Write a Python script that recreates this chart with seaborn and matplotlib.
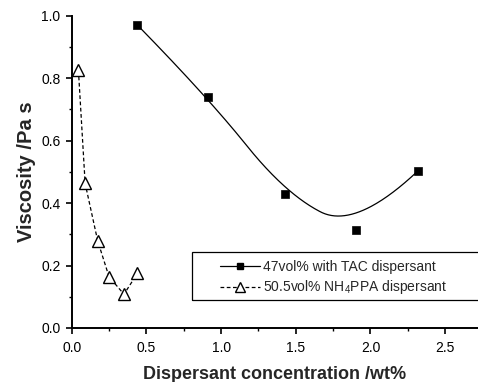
import matplotlib
matplotlib.use("Agg")
import matplotlib.pyplot as plt
from matplotlib.lines import Line2D
from matplotlib.patches import Rectangle
from matplotlib.ticker import MultipleLocator
import seaborn as sns
import pandas as pd
import numpy as np

# TAC dispersant series (squares)
tac_conc = [0.44, 0.91, 1.43, 1.90, 2.32]
tac_visc = [0.97, 0.74, 0.43, 0.314, 0.504]

# NH4PPA dispersant series (triangles)
ppa_conc = [0.045, 0.09, 0.174, 0.25, 0.35, 0.44]
ppa_visc = [0.825, 0.463, 0.279, 0.164, 0.108, 0.175]

tac_label = "47vol% with TAC dispersant"
ppa_label = "50.5vol% NH$_4$PPA dispersant"
x_label = "Dispersant concentration /wt%"
y_label = "Viscosity /Pa s"
x_ticks = [0.0, 0.5, 1.0, 1.5, 2.0, 2.5]
y_ticks = [0.0, 0.2, 0.4, 0.6, 0.8, 1.0]


def bspline_curve(px, py, degree=2, n=300):
    """Clamped B-spline using the data points as control points (Origin-style B-spline connect)."""
    px = np.asarray(px, float)
    py = np.asarray(py, float)
    m = len(px)
    k = degree
    inner = np.linspace(0, 1, m - k + 1)[1:-1]
    knots = np.concatenate([np.zeros(k + 1), inner, np.ones(k + 1)])
    t = np.linspace(0, 1, n)
    t[-1] = 1 - 1e-12

    def basis(i, p, tt):
        if p == 0:
            return ((knots[i] <= tt) & (tt < knots[i + 1])).astype(float)
        out = np.zeros_like(tt)
        d1 = knots[i + p] - knots[i]
        d2 = knots[i + p + 1] - knots[i + 1]
        if d1 > 0:
            out += (tt - knots[i]) / d1 * basis(i, p - 1, tt)
        if d2 > 0:
            out += (knots[i + p + 1] - tt) / d2 * basis(i + 1, p - 1, tt)
        return out

    B = np.array([basis(i, k, t) for i in range(m)])
    return B.T @ px, B.T @ py


sns.set_style("ticks")
plt.rcParams["font.family"] = ["Liberation Sans", "DejaVu Sans"]
plt.rcParams["mathtext.fontset"] = "custom"
plt.rcParams["mathtext.rm"] = "Liberation Sans"

fig = plt.figure(figsize=(4.78, 3.82), dpi=100)
ax = fig.add_axes([0.15, 0.1414, 0.85, 0.8175])

tac = pd.DataFrame({"c": tac_conc, "v": tac_visc})
ppa = pd.DataFrame({"c": ppa_conc, "v": ppa_visc})

bx, by = bspline_curve(tac_conc, tac_visc)
sns.lineplot(x=bx, y=by, sort=False, estimator=None, ax=ax, color="black", lw=0.9)
sns.scatterplot(data=tac, x="c", y="v", marker="s", s=36, color="black",
                edgecolor="black", ax=ax, zorder=3)
sns.lineplot(data=ppa, x="c", y="v", ax=ax, color="black", lw=0.9,
             linestyle=(0, (3, 2)), marker="^", markersize=8,
             markerfacecolor="white", markeredgecolor="black",
             markeredgewidth=1.0, sort=False, estimator=None)

ax.set_xlim(0, 2.72)
ax.set_ylim(0, 1.0)
ax.xaxis.set_minor_locator(MultipleLocator(0.25))
ax.yaxis.set_minor_locator(MultipleLocator(0.1))
ax.set_xticks(x_ticks)
ax.set_xticklabels([f"{v:.1f}" for v in x_ticks])
ax.set_yticks(y_ticks)
ax.set_yticklabels([f"{v:.1f}" for v in y_ticks])
ax.tick_params(which="major", direction="out", length=4.5, width=1.2,
               labelsize=10, color="black", labelcolor="black")
ax.tick_params(axis="x", which="major", pad=5)
ax.tick_params(which="minor", direction="out", length=2.5, width=1.0,
               color="black")

sns.despine(ax=ax, top=True, right=True)
for s in ["left", "bottom"]:
    ax.spines[s].set_linewidth(1.4)
    ax.spines[s].set_color("black")

ax.set_xlabel(x_label, fontsize=13, fontweight="bold", labelpad=8)
ax.set_ylabel(y_label, fontsize=14.5, fontweight="bold", labelpad=4)

# legend frame (extends past the right edge as in the reference)
ax.add_patch(Rectangle((0.296, 0.0897), 0.8, 0.154, transform=ax.transAxes,
                       fill=False, edgecolor="black", lw=0.9, clip_on=False,
                       zorder=4))
handles = [
    Line2D([], [], color="black", lw=0.9, marker="s", markersize=5,
           markerfacecolor="black"),
    Line2D([], [], color="black", lw=0.9, linestyle=(0, (3, 2)), marker="^",
           markersize=7, markerfacecolor="white", markeredgecolor="black"),
]
leg = ax.legend(handles, [tac_label, ppa_label], loc="center left",
                bbox_to_anchor=(0.365, 0.16), fontsize=10, frameon=False,
                handlelength=2.9, handletextpad=0.2, borderpad=0,
                labelspacing=0.35, borderaxespad=0)

fig.savefig("out.png", dpi=100)
